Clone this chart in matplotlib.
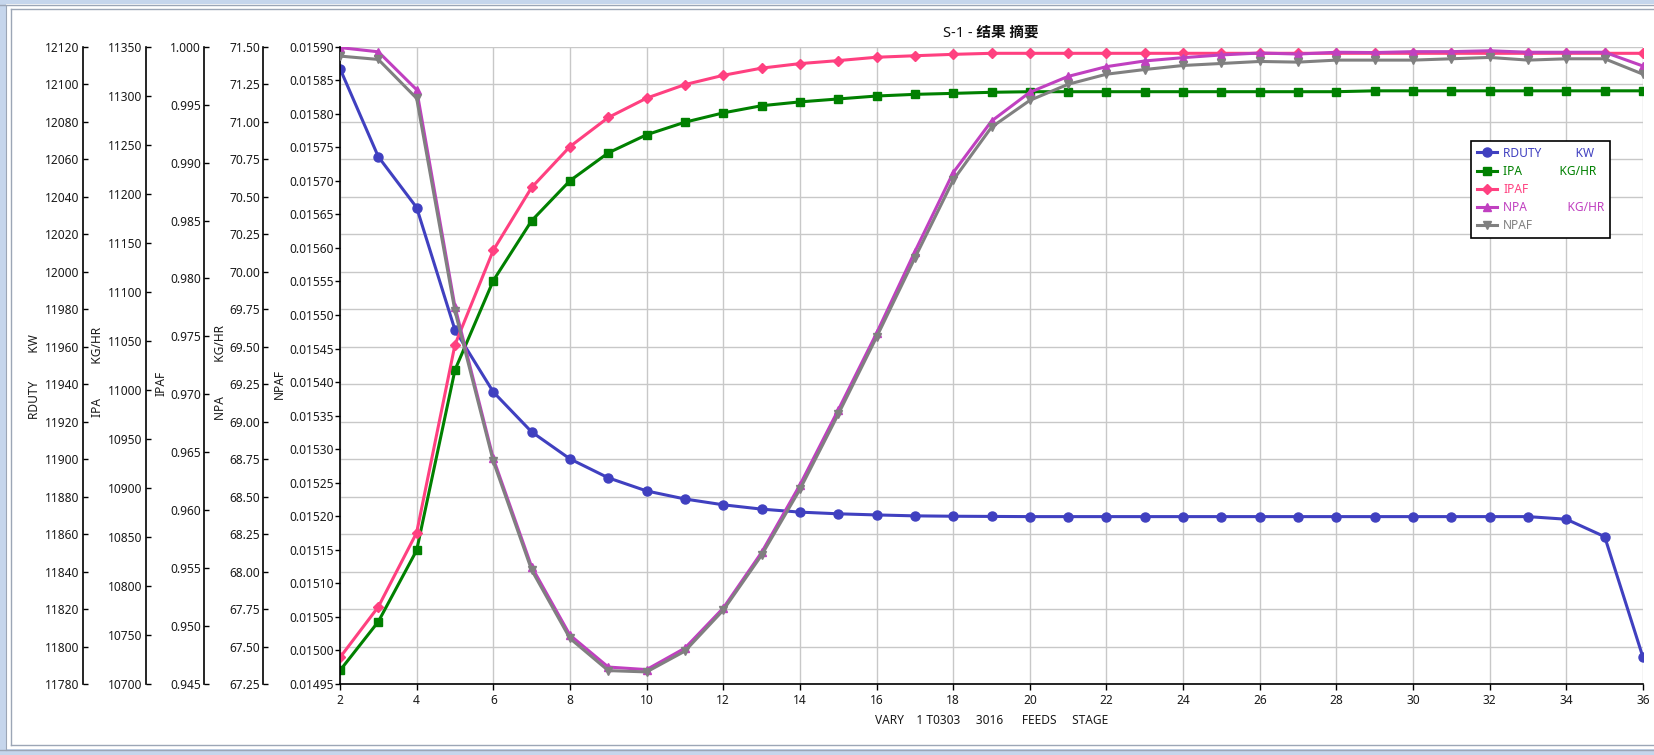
import numpy as np
import matplotlib.pyplot as plt
from matplotlib.patches import Rectangle
from matplotlib.lines import Line2D
from matplotlib.ticker import StrMethodFormatter

plt.rcParams['font.family'] = ['Noto Sans', 'Noto Sans CJK SC']
plt.rcParams['font.size'] = 8.6

stages = list(range(2, 37))

rduty = [12108.3, 12061.3, 12034.2, 11968.9, 11935.8, 11914.5, 11900.1, 11890.0,
         11883.0, 11878.7, 11875.6, 11873.3, 11871.7, 11870.8, 11870.2, 11869.7,
         11869.5, 11869.4, 11869.3, 11869.3, 11869.3, 11869.3, 11869.3, 11869.3,
         11869.3, 11869.3, 11869.3, 11869.3, 11869.3, 11869.3, 11869.3, 11869.3,
         11867.9, 11858.6, 11794.2]

ipa = [10713.8, 10763.6, 10836.3, 11020.3, 11111.4, 11172.5, 11213.3, 11241.7,
       11260.2, 11273.0, 11282.5, 11289.8, 11293.7, 11296.7, 11299.7, 11301.4,
       11302.4, 11303.5, 11304.1, 11304.1, 11304.1, 11304.1, 11304.1, 11304.1,
       11304.1, 11304.1, 11304.1, 11305.0, 11305.0, 11305.0, 11305.0, 11305.0,
       11305.0, 11305.0, 11305.0]

ipaf = [0.94729, 0.95166, 0.95806, 0.97428, 0.98243, 0.98785, 0.99138, 0.99389,
        0.99556, 0.99673, 0.99753, 0.99815, 0.99854, 0.99880, 0.99909, 0.99922,
        0.99934, 0.99943, 0.99943, 0.99943, 0.99943, 0.99943, 0.99943, 0.99943,
        0.99943, 0.99943, 0.99943, 0.99943, 0.99943, 0.99943, 0.99943, 0.99943,
        0.99943, 0.99943, 0.99943]

npa = [71.494, 71.466, 71.213, 69.766, 68.754, 68.032, 67.576, 67.363,
       67.346, 67.489, 67.756, 68.127, 68.577, 69.077, 69.589, 70.133,
       70.660, 71.004, 71.196, 71.302, 71.367, 71.405, 71.427, 71.445,
       71.458, 71.451, 71.463, 71.461, 71.467, 71.467, 71.473, 71.463,
       71.463, 71.463, 71.371]

npaf = [0.015886, 0.015881, 0.015823, 0.015506, 0.015282, 0.015120, 0.015018, 0.014970,
        0.014968, 0.014999, 0.015060, 0.015142, 0.015240, 0.015352, 0.015467, 0.015585,
        0.015701, 0.015780, 0.015820, 0.015844, 0.015859, 0.015866, 0.015872, 0.015875,
        0.015878, 0.015877, 0.015880, 0.015880, 0.015880, 0.015882, 0.015884, 0.015880,
        0.015882, 0.015882, 0.015859]

W, H = 1654, 755
L, R, T, B = 340, 1643, 46.7, 684   # plot box in pixels


def fx(px):
    return px / W


def fy(py):
    return 1 - py / H


def ax_x(px):
    return (px - L) / (R - L)


def ax_y(py):
    return (B - py) / (B - T)


fig = plt.figure(figsize=(W / 100, H / 100), dpi=100)

# window frame
band = '#c6d6ec'
edge = '#9ca6b6'
fig.add_artist(Rectangle((0, 0), fx(6), 1, transform=fig.transFigure, color=band, lw=0))
fig.add_artist(Rectangle((0, fy(4)), 1, fy(0) - fy(4), transform=fig.transFigure, color=band, lw=0))
fig.add_artist(Rectangle((0, 0), 1, fy(749), transform=fig.transFigure, color=band, lw=0))
for y in (4.5, 9, 745, 749.5):
    fig.add_artist(Line2D([fx(0 if y in (4.5, 749.5) else 11), 1], [fy(y), fy(y)],
                          transform=fig.transFigure, color=edge, lw=1))
fig.add_artist(Line2D([fx(11), fx(11)], [fy(9), fy(745)], transform=fig.transFigure, color=edge, lw=1))
fig.add_artist(Line2D([fx(6), fx(6)], [fy(4.5), fy(749.5)], transform=fig.transFigure, color=edge, lw=0.8))

ax = fig.add_axes([fx(L), fy(B), fx(R) - fx(L), fy(T) - fy(B)])

specs = [
    # data, colour, marker, size, lo, hi, n ticks, format, spine px, label x px, label y px, label
    (rduty, '#4040c0', 'o', 6.5, 11780, 12120, 18, '{x:.0f}', 82.7, 34, 377,
     'RDUTY' + ' ' * 9 + 'KW', 'RDUTY' + ' ' * 11 + 'KW'),
    (ipa, '#008000', 's', 6.0, 10700, 11350, 14, '{x:.0f}', 145.7, 97.7, 372,
     'IPA' + ' ' * 11 + 'KG/HR', 'IPA' + ' ' * 12 + 'KG/HR'),
    (ipaf, '#ff4080', 'D', 5.0, 0.945, 1.000, 12, '{x:.3f}', 204.3, 161, 383,
     'IPAF', 'IPAF'),
    (npa, '#c040c0', '^', 6.0, 67.25, 71.50, 18, '{x:.2f}', 263.3, 220, 372,
     'NPA' + ' ' * 11 + 'KG/HR', 'NPA' + ' ' * 13 + 'KG/HR'),
    (npaf, '#808080', 'v', 6.0, 0.01495, 0.01590, 20, '{x:.5f}', 340, 279, 384,
     'NPAF', 'NPAF'),
]

handles = []
labels = []
for i, (data, col, mk, ms, lo, hi, n, fmt, spx, lx, ly, ylab, leg) in enumerate(specs):
    a = ax if i == 0 else ax.twinx()
    a.set_xlim(2, 36)
    a.set_ylim(lo, hi)
    a.set_yticks(np.linspace(lo, hi, n))
    a.yaxis.set_major_formatter(StrMethodFormatter(fmt))
    a.yaxis.set_ticks_position('left')
    a.yaxis.set_label_position('left')
    a.spines['top'].set_visible(False)
    a.spines['right'].set_visible(False)
    a.spines['left'].set_visible(True)
    a.spines['left'].set_position(('axes', ax_x(spx)))
    a.spines['left'].set_linewidth(1.2)
    if i > 0:
        a.spines['bottom'].set_visible(False)
    last = i == len(specs) - 1
    a.tick_params(axis='y', direction='out' if last else 'in', length=3.4, width=1,
                  pad=1 if last else 2.5, labelsize=8.6, labelcolor='#1a1a1a')
    line, = a.plot(stages, data, color=col, lw=2.2, marker=mk, ms=ms, zorder=3)
    handles.append(line)
    labels.append(leg)
    a.set_ylabel(ylab, fontsize=8.6, color='#1a1a1a')
    a.yaxis.label.set_verticalalignment('center')
    a.yaxis.set_label_coords(ax_x(lx), ax_y(ly))

ax.set_xticks(range(2, 37, 2))
ax.tick_params(axis='x', direction='out', length=4, width=1, pad=3, labelsize=8.6, labelcolor='#1a1a1a')
ax.spines['bottom'].set_linewidth(1.2)
ax.grid(True, color='#c8c8c8', lw=1)
ax.set_xlabel('VARY    1 T0303     3016      FEEDS     STAGE', fontsize=8.6, color='#1a1a1a')
ax.xaxis.set_label_coords(0.5, ax_y(714))

fig.text(fx(991), fy(33), 'S-1 - 结果 摘要', ha='center', va='center',
         fontsize=10.5, fontweight='bold', color='#111111')

leg = a.legend(handles, labels, loc='upper left',
               bbox_to_anchor=(ax_x(1471), ax_y(140.7)), borderaxespad=0,
               fancybox=False, framealpha=1, edgecolor='black', fontsize=8.6,
               labelcolor='linecolor', handlelength=1.7, handletextpad=0.5,
               labelspacing=0.42, borderpad=0.5, numpoints=1)
leg.get_frame().set_linewidth(1.2)
leg.set_zorder(10)

fig.savefig('out.png', dpi=100)
